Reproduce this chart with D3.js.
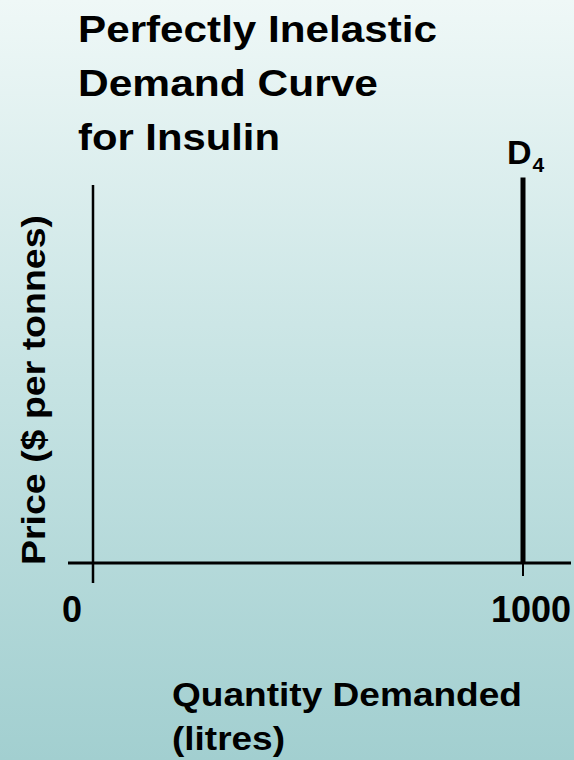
<!DOCTYPE html>
<html>
<head>
<meta charset="utf-8">
<script src="https://cdn.jsdelivr.net/npm/d3@7"></script>
<style>
  html, body { margin: 0; padding: 0; }
  body { width: 574px; height: 760px; overflow: hidden; }
  svg text { font-family: "Liberation Sans", Arial, sans-serif; font-weight: bold; fill: #000; }
</style>
</head>
<body>
<svg id="chart" width="574" height="760"></svg>
<script>
// Chart content
const titleLines = ["Perfectly Inelastic", "Demand Curve", "for Insulin"];
const titleWidths = [359, 300, 202];
const xTickValues = [0, 1000];
const xTickLabels = ["0", "1000"];
const demandQuantity = 1000;          // perfectly inelastic: same quantity at every price
const demandPrices = [0, 1.02];       // price range spanned by the vertical demand line
const demandLabel = "D";
const demandSub = "4";
const yLabel = "Price  ($ per tonnes)";
const xLabelLines = ["Quantity Demanded", "(litres)"];
const xLabelWidths = [350, 113];

const svg = d3.select("#chart");

// Background gradient
const defs = svg.append("defs");
const grad = defs.append("linearGradient").attr("id", "bg").attr("x1", 0).attr("y1", 0).attr("x2", 0).attr("y2", 1);
grad.append("stop").attr("offset", "0%").attr("stop-color", "#eff8f7");
grad.append("stop").attr("offset", "50%").attr("stop-color", "#c6e3e3");
grad.append("stop").attr("offset", "100%").attr("stop-color", "#a2cfd0");
svg.append("rect").attr("width", 574).attr("height", 760).attr("fill", "url(#bg)");

// Scales
const x = d3.scaleLinear().domain([0, 1000]).range([93, 523]);
const y = d3.scaleLinear().domain([0, 1]).range([563, 185]);

// Title
svg.append("g").selectAll("text").data(titleLines).join("text")
  .attr("x", 78).attr("y", (d, i) => 42 + i * 54)
  .attr("font-size", 37)
  .attr("textLength", (d, i) => titleWidths[i])
  .attr("lengthAdjust", "spacingAndGlyphs")
  .text(d => d);

// Vertical (price) axis
svg.append("line")
  .attr("x1", x(0)).attr("x2", x(0))
  .attr("y1", y(1)).attr("y2", y(0) + 20)
  .attr("stroke", "#000").attr("stroke-width", 2.5);

// Horizontal (quantity) axis
svg.append("line")
  .attr("x1", x(0) - 25).attr("x2", 571)
  .attr("y1", y(0)).attr("y2", y(0))
  .attr("stroke", "#000").attr("stroke-width", 3);

// Tick labels on the quantity axis
const xAxis = d3.axisBottom(x).tickValues(xTickValues).tickSize(0)
  .tickFormat((d, i) => xTickLabels[i]);
const gx = svg.append("g").attr("transform", `translate(0,${y(0)})`).call(xAxis);
gx.select(".domain").remove();
gx.selectAll(".tick text")
  .attr("dy", 0).attr("y", 59)
  .attr("font-size", 36)
  .attr("font-family", "Liberation Sans, Arial, sans-serif")
  .attr("font-weight", "bold")
  .attr("fill", "#000")
  .attr("text-anchor", "middle")
  .attr("dx", (d) => d === 0 ? -21.5 : 7.5);
// small tick below the demand line
svg.append("line")
  .attr("x1", x(demandQuantity)).attr("x2", x(demandQuantity))
  .attr("y1", y(0)).attr("y2", y(0) + 13)
  .attr("stroke", "#000").attr("stroke-width", 2);

// Demand curve D4
svg.append("line")
  .attr("x1", x(demandQuantity)).attr("x2", x(demandQuantity))
  .attr("y1", y(demandPrices[0])).attr("y2", y(demandPrices[1]))
  .attr("stroke", "#000").attr("stroke-width", 5);

const dl = svg.append("text")
  .attr("x", x(demandQuantity) - 16).attr("y", 164)
  .attr("font-size", 34);
dl.append("tspan").text(demandLabel);
dl.append("tspan").attr("font-size", 21).attr("dx", 1).attr("dy", 8).text(demandSub);

// Axis titles
svg.append("text")
  .attr("transform", "translate(45,390) rotate(-90)")
  .attr("text-anchor", "middle")
  .attr("font-size", 34)
  .attr("textLength", 350)
  .attr("lengthAdjust", "spacingAndGlyphs")
  .text(yLabel);

svg.append("g").selectAll("text").data(xLabelLines).join("text")
  .attr("x", 172).attr("y", (d, i) => 706 + i * 44)
  .attr("font-size", 33)
  .attr("textLength", (d, i) => xLabelWidths[i])
  .attr("lengthAdjust", "spacingAndGlyphs")
  .text(d => d);
</script>
</body>
</html>
